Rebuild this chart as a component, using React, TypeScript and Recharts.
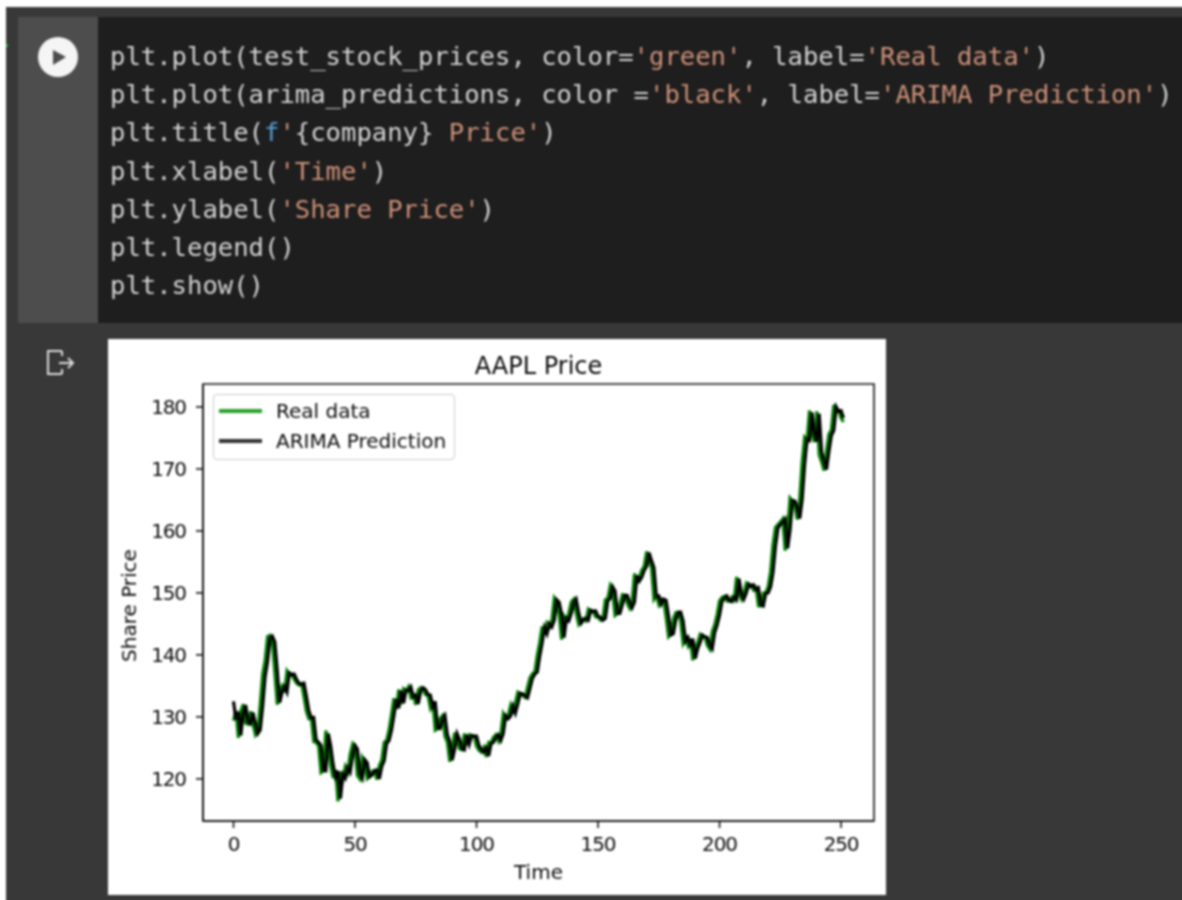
import { LineChart, Line, XAxis, YAxis, Legend, ReferenceArea, Label } from 'recharts'

const realData = [
  129.41, 131.01, 126.6, 130.92, 132.05, 128.98, 128.8, 130.89, 128.91, 127.14, 127.83, 132.03, 136.87, 139.07, 142.92, 143.16, 142.06, 137.09, 131.96,
  134.14, 134.99, 133.94, 137.39, 136.76, 136.91, 136.01, 135.39, 135.13, 135.37, 133.19, 130.84, 129.71, 129.87, 126.0, 125.86, 125.35, 120.99, 121.26,
  127.79, 125.12, 122.06, 120.13, 121.42, 116.36, 121.09, 119.98, 121.96, 121.03, 123.99, 125.57, 124.76, 120.53, 119.99, 123.39, 122.54, 120.09, 120.59, 121.21, 121.39, 119.9, 122.15,
  123.0, 125.9, 126.21, 127.9, 130.36, 133.0, 131.24, 134.43, 132.03, 134.5, 134.16, 134.84, 133.11, 133.5, 131.94, 134.32, 134.72, 134.39, 133.58, 133.48, 131.46,
  132.54, 127.85, 128.1, 129.74, 130.21, 126.85, 125.91, 122.77, 124.97, 127.45, 126.27, 124.85, 124.69, 127.31, 125.43, 127.1, 126.9, 126.85, 125.28, 124.61,
  124.28, 125.06, 123.54, 125.89, 125.9, 126.74, 127.13, 126.11, 127.35, 130.48, 129.64, 130.15, 131.79, 130.46, 132.3, 133.98, 133.7, 133.41, 133.11, 134.78, 136.33, 136.96,
  137.27, 139.96, 142.02, 144.57, 143.24, 145.11, 144.5, 145.64, 149.15, 148.48, 146.39, 142.45, 146.15, 145.4, 146.8, 148.56, 148.99, 146.77, 144.98, 145.64, 145.86,
  145.52, 147.36, 146.95, 147.06, 146.14, 146.09, 145.6, 145.86, 148.89, 149.1, 151.12, 150.19, 146.36, 146.7, 148.19, 149.71, 149.62, 148.36, 147.54, 148.6, 153.12, 151.83,
  152.51, 153.65, 154.3, 156.69, 155.11, 154.07, 148.97, 149.55, 148.12, 149.03, 148.79, 146.06, 142.94, 143.43, 145.85, 146.83, 146.92, 145.37, 141.91, 142.83, 141.5,
  142.65, 139.14, 141.11, 142.0, 143.29, 142.9, 142.81, 141.51, 140.91, 143.76, 144.84, 146.55, 148.76, 149.26, 149.48, 148.69, 148.64, 149.32, 148.85, 152.57, 149.8,
  148.96, 150.02, 151.49, 150.96, 151.28, 150.44, 150.81, 147.92, 147.87, 149.99, 150.0, 151.0, 153.49, 157.87, 160.55, 161.02, 161.41, 161.94, 156.81, 160.24, 165.3,
  164.77, 163.76, 161.84, 165.32, 171.18, 175.08, 174.56, 179.45, 175.74, 174.33, 179.3, 172.26, 171.14, 169.75, 172.99, 175.64, 176.28, 180.33, 179.29, 179.38, 178.2, 177.57,
]

const arimaPredictions = [
  132.5, 129.6, 130.8, 127.0, 130.6, 131.9, 129.2, 128.9, 130.7, 129.0, 127.3, 127.9, 131.7, 136.5, 138.9, 142.6, 143.0, 142.1, 137.5,
  132.3, 134.0, 134.9, 134.0, 137.1, 136.8, 136.9, 136.0, 135.4, 135.2, 135.4, 133.3, 131.0, 129.8, 129.9, 126.3, 125.9, 125.4, 121.4, 121.3,
  127.3, 125.3, 122.3, 120.3, 121.3, 116.8, 120.7, 120.1, 121.8, 121.1, 123.8, 125.4, 124.8, 120.9, 120.1, 123.1, 122.6, 120.3, 120.6, 121.2, 121.4, 120.0, 122.0,
  122.9, 125.7, 126.2, 127.8, 130.2, 132.8, 131.4, 134.2, 132.2, 134.3, 134.2, 134.8, 133.2, 133.5, 132.1, 134.1, 134.7, 134.4, 133.6, 133.5, 131.6,
  132.5, 128.2, 128.1, 129.6, 130.2, 127.1, 126.0, 123.0, 124.8, 127.3, 126.4, 124.9, 124.7, 127.1, 125.6, 127.0, 126.9, 126.9, 125.4, 124.7,
  124.3, 125.0, 123.7, 125.7, 125.9, 126.7, 127.1, 126.2, 127.3, 130.2, 129.7, 130.1, 131.7, 130.6, 132.1, 133.8, 133.7, 133.4, 133.1, 134.6, 136.2,
  136.9, 137.2, 139.8, 141.9, 144.4, 143.4, 145.0, 144.5, 145.6, 148.9, 148.5, 146.6, 142.8, 145.9, 145.5, 146.7, 148.4, 149.0, 146.9, 145.1, 145.6,
  145.9, 145.6, 147.2, 147.0, 147.1, 146.2, 146.1, 145.6, 145.9, 148.7, 149.1, 151.0, 150.3, 146.7, 146.7, 148.1, 149.6, 149.6, 148.5, 147.6, 148.5, 152.8,
  151.9, 152.5, 153.6, 154.3, 156.5, 155.2, 154.1, 149.4, 149.5, 148.2, 149.0, 148.8, 146.3, 143.2, 143.4, 145.7, 146.8, 146.9, 145.5, 142.2, 142.8,
  141.6, 142.6, 139.4, 141.0, 142.0, 143.2, 142.9, 142.8, 141.6, 141.0, 143.6, 144.8, 146.4, 148.6, 149.2, 149.5, 148.8, 148.6, 149.3, 148.9, 152.3,
  149.9, 149.0, 150.0, 151.4, 151.0, 151.3, 150.5, 150.8, 148.1, 147.9, 149.9, 150.0, 151.0, 153.3, 157.5, 160.4, 161.0, 161.4, 161.9, 157.2, 160.1,
  164.9, 164.8, 163.8, 162.0, 165.1, 170.7, 174.8, 174.6, 179.1, 175.9, 174.4, 178.9, 172.7, 171.2, 169.9, 172.8, 175.4, 176.2, 180.0, 179.3, 179.4, 178.2,
]

const timeTicks = [0, 50, 100, 150, 200, 250]
const priceTicks = [120, 130, 140, 150, 160, 170, 180]
const xDomain = [-12.55, 263.55]
const yDomain = [113.2, 183.7]

const rows = realData.map((real, i) => ({ t: i, real, arima: arimaPredictions[i] }))

const legendItems = [
  { label: 'Real data', color: '#2ca02c' },
  { label: 'ARIMA Prediction', color: '#333333' },
]

const S = ({ children }: { children: string }) => <span style={{ color: '#ce9178' }}>{children}</span>

const codeLines = [
  <>plt.plot(test_stock_prices, color=<S>'green'</S>, label=<S>'Real data'</S>)</>,
  <>plt.plot(arima_predictions, color =<S>'black'</S>, label=<S>'ARIMA Prediction'</S>)</>,
  <>plt.title(<span style={{ color: '#569cd6' }}>f</span><S>'</S>{'{company}'}<S> Price'</S>)</>,
  <>plt.xlabel(<S>'Time'</S>)</>,
  <>plt.ylabel(<S>'Share Price'</S>)</>,
  <>plt.legend()</>,
  <>plt.show()</>,
]

const textColor = '#0a0a0a'
const tickStyle = { fontSize: 20, fill: textColor, fontFamily: 'DejaVu Sans', letterSpacing: -1.1 }

function LegendBox() {
  return (
    <div style={{ width: 240, height: 64, border: '1px solid #cccccc', borderRadius: 4, background: '#fff', position: 'relative', fontFamily: 'DejaVu Sans', fontSize: 20, color: textColor }}>
      {legendItems.map((item, i) => (
        <div key={item.label} style={{ position: 'absolute', left: 5, top: 1 + i * 30, height: 30, display: 'flex', alignItems: 'center', whiteSpace: 'nowrap' }}>
          <span style={{ display: 'inline-block', width: 43, height: 4, background: item.color, marginRight: 14 }} />
          {item.label}
        </div>
      ))}
    </div>
  )
}

export default function App() {
  return (
    <div style={{ position: 'absolute', left: 0, top: 0, width: 1182, height: 900, background: '#fff', overflow: 'hidden' }}>
      <div style={{ position: 'absolute', left: 0, top: 0, width: 1200, height: 920, filter: 'blur(0.8px)' }}>
        <div style={{ position: 'absolute', left: 6, top: 7, width: 1194, height: 913, background: '#383838' }} />
        <div style={{ position: 'absolute', left: 6, top: 44, width: 2, height: 3, background: '#2ea043' }} />
        <div style={{ position: 'absolute', left: 18, top: 17, width: 80, height: 306, background: '#4d4d4d' }} />
        <div style={{ position: 'absolute', left: 98, top: 17, width: 1102, height: 306, background: '#1e1e1e' }} />

        <svg style={{ position: 'absolute', left: 38, top: 37 }} width={40} height={40}>
          <circle cx={20} cy={20} r={20} fill="#f5f5f5" />
          <path d="M15 13 L28 20 L15 28 Z" fill="#4d4d4d" />
        </svg>
        <svg style={{ position: 'absolute', left: 46, top: 348 }} width={30} height={30} fill="none" stroke="#dcdcdc" strokeWidth={2}>
          <path d="M16 3 H2 V26 H16 M16 3 V8 M16 21 V26" />
          <path d="M13 15 H27 M22 10 L27 15 L22 20" strokeWidth={2} />
        </svg>

        <pre style={{ position: 'absolute', left: 110, top: 37, margin: 0, fontFamily: 'DejaVu Sans Mono', fontSize: 25.58, lineHeight: '38.2px', color: '#d4d4d4' }}>
          {codeLines.map((line, i) => <div key={i}>{line}</div>)}
        </pre>

        <div style={{ position: 'absolute', left: 108, top: 339, width: 778, height: 556, background: '#fff' }}>
          <LineChart width={778} height={556} data={rows} margin={{ top: 45, right: 12, bottom: -52, left: 35 }}>
            <XAxis
              dataKey="t"
              type="number"
              domain={xDomain}
              ticks={timeTicks}
              height={60}
              tickSize={7}
              tickMargin={9}
              allowDataOverflow
              interval={0}
              stroke="#111"
              strokeWidth={1.6}
              tick={tickStyle}
              label={{ value: 'Time', position: 'insideBottom', offset: 2, fontSize: 20, fill: textColor, fontFamily: 'DejaVu Sans' }}
            />
            <YAxis
              type="number"
              domain={yDomain}
              ticks={priceTicks}
              width={60}
              tickSize={7}
              tickMargin={10}
              allowDataOverflow
              interval={0}
              stroke="#111"
              strokeWidth={1.6}
              tick={tickStyle}
              label={{ value: 'Share Price', angle: -90, position: 'insideLeft', offset: -14, dy: 3, style: { textAnchor: 'middle' }, fontSize: 20, fill: textColor, fontFamily: 'DejaVu Sans' }}
            />
            <ReferenceArea x1={xDomain[0]} x2={xDomain[1]} y1={yDomain[0]} y2={yDomain[1]} fill="none" stroke="#111" strokeWidth={1.6} ifOverflow="visible">
              <Label value="AAPL Price" position="top" offset={10} fontSize={24} fill={textColor} fontFamily="DejaVu Sans" />
            </ReferenceArea>
            <Line dataKey="real" stroke="#008000" strokeWidth={3.2} dot={false} isAnimationActive={false} />
            <Line dataKey="arima" stroke="#000000" strokeWidth={3.2} dot={false} isAnimationActive={false} />
            <Legend content={<LegendBox />} wrapperStyle={{ left: 105, top: 55, width: 242, height: 66, bottom: 'auto' }} />
          </LineChart>
        </div>
      </div>
    </div>
  )
}
